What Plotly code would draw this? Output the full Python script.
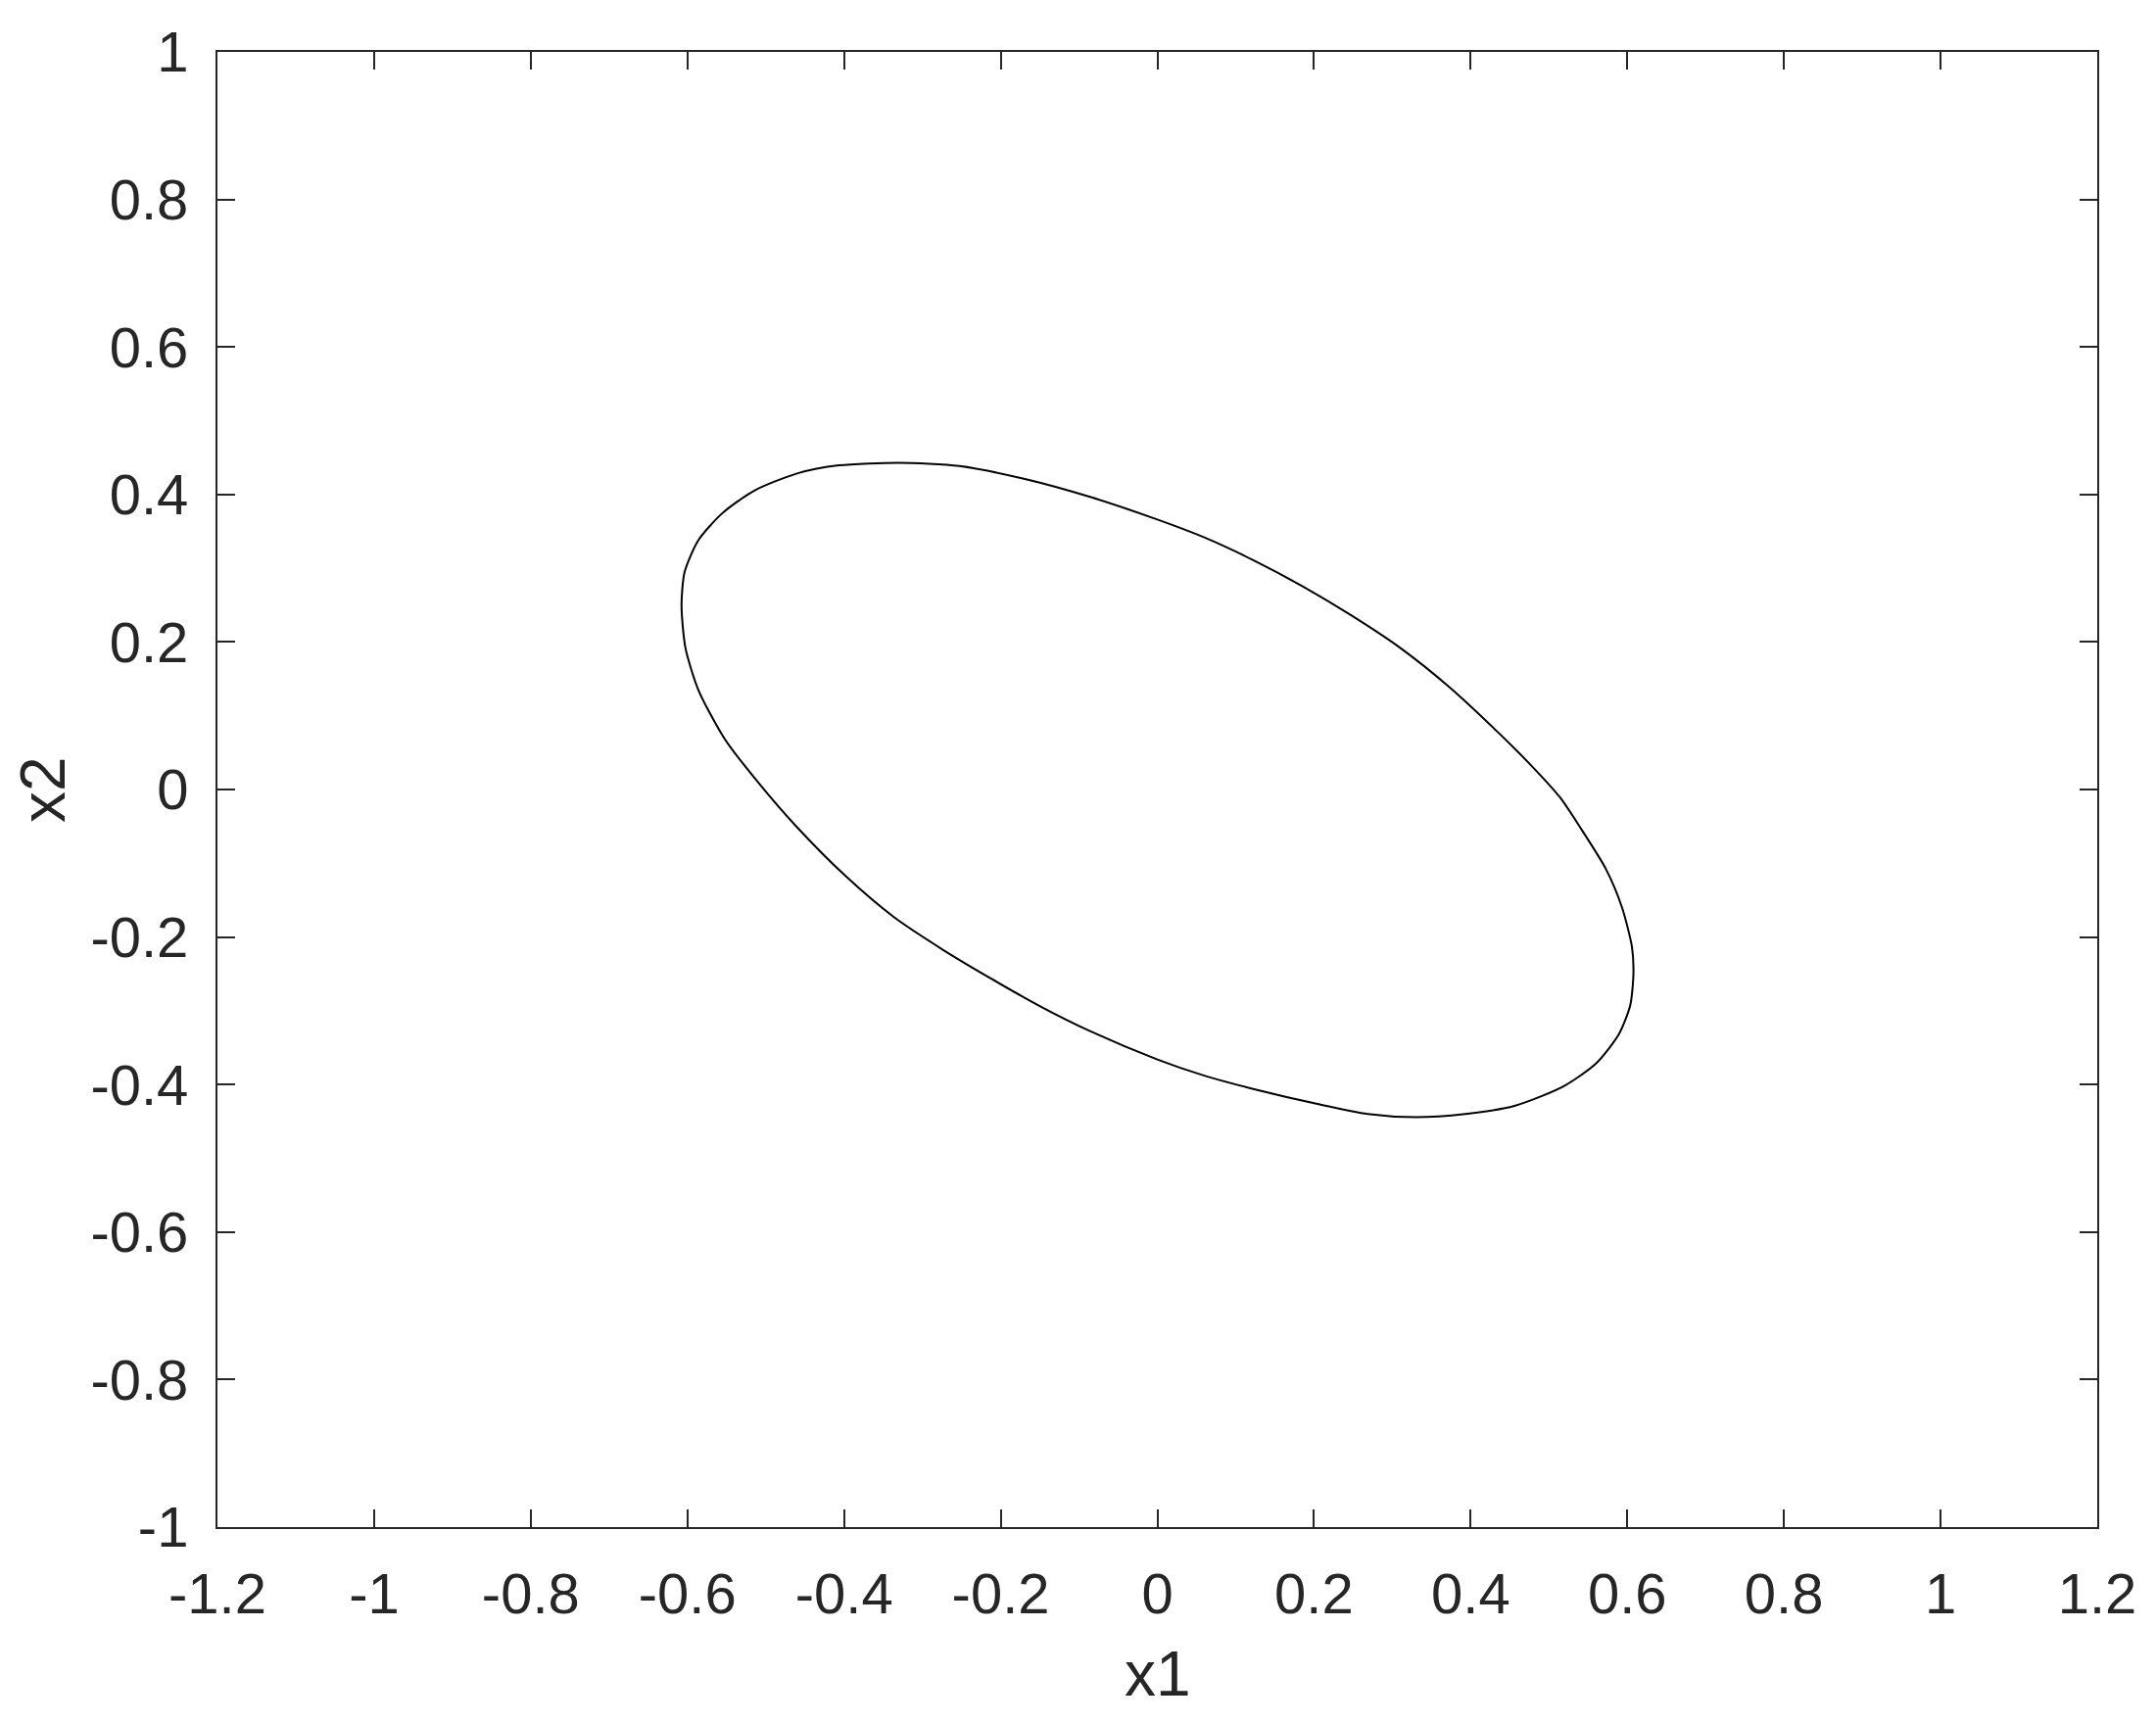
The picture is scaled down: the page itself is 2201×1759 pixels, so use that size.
import plotly.graph_objects as go

# Ellipse points (x1, x2)
x1_vals = [-0.330, -0.2525, -0.1691, -0.0859, 0.000, 0.060, 0.1225, 0.185, 0.2475, 0.310,
           0.3725, 0.435, 0.4766, 0.514, 0.5391, 0.5725, 0.5934, 0.6059, 0.6079, 0.6038,
           0.5891, 0.560, 0.5184, 0.4559, 0.3934, 0.330, 0.2684, 0.2059, 0.1225, 0.060,
           0.000, -0.0859, -0.1484, -0.2109, -0.2734, -0.3359, -0.3984, -0.4609, -0.510,
           -0.5525, -0.5859, -0.6025, -0.6075, -0.6035, -0.5860, -0.5560, -0.5150, -0.4600,
           -0.4066, -0.330]
x2_vals = [0.443, 0.4386, 0.4210, 0.3967, 0.366, 0.3417, 0.3109, 0.2757, 0.2361, 0.192,
           0.1391, 0.0775, 0.0334, -0.0106, -0.0502, -0.1074, -0.1603, -0.2131, -0.2483, -0.2924,
           -0.332, -0.3716, -0.4025, -0.4289, -0.4399, -0.4443, -0.4399, -0.4267, -0.4060, -0.3880,
           -0.366, -0.3276, -0.2946, -0.2572, -0.2175, -0.1734, -0.117, -0.0502, 0.010,
           0.0687, 0.1347, 0.192, 0.250, 0.2950, 0.3380, 0.3740, 0.4050, 0.4285,
           0.4395, 0.443]

x_ticks = [-1.2, -1, -0.8, -0.6, -0.4, -0.2, 0, 0.2, 0.4, 0.6, 0.8, 1, 1.2]
x_tick_labels = ["-1.2", "-1", "-0.8", "-0.6", "-0.4", "-0.2", "0", "0.2", "0.4", "0.6", "0.8", "1", "1.2"]
y_ticks = [-1, -0.8, -0.6, -0.4, -0.2, 0, 0.2, 0.4, 0.6, 0.8, 1]
y_tick_labels = ["-1", "-0.8", "-0.6", "-0.4", "-0.2", "0", "0.2", "0.4", "0.6", "0.8", "1"]

FONT = "Liberation Sans, Arial, sans-serif"
AX = "#262626"

fig = go.Figure()
fig.add_trace(go.Scatter(x=x1_vals, y=x2_vals, mode="lines",
                         line=dict(color="black", width=2, shape="spline", smoothing=0.7),
                         showlegend=False, hoverinfo="skip"))

axis_common = dict(showgrid=False, zeroline=False, showline=True, linecolor=AX, linewidth=2,
                   mirror="ticks", ticks="inside", ticklen=18, tickwidth=2, tickcolor=AX,
                   tickfont=dict(family=FONT, size=58, color=AX))

fig.update_xaxes(range=[-1.2, 1.2], tickvals=x_ticks, ticktext=x_tick_labels,
                 ticklabelstandoff=16, **axis_common)
fig.update_yaxes(range=[-1, 1], tickvals=y_ticks, ticktext=y_tick_labels,
                 ticklabelstandoff=16, **axis_common)

fig.add_annotation(text="x1", xref="paper", yref="paper", x=0.5, y=-0.0997,
                   xanchor="center", yanchor="middle", showarrow=False,
                   font=dict(family=FONT, size=64, color=AX))
fig.add_annotation(text="x2", xref="paper", yref="paper", x=-0.0927, y=0.5,
                   xanchor="center", yanchor="middle", showarrow=False, textangle=-90,
                   font=dict(family=FONT, size=64, color=AX))

fig.update_layout(width=2185, height=1743,
                  margin=dict(l=214, r=51, t=37, b=192),
                  paper_bgcolor="white", plot_bgcolor="white")

fig.write_html("out.html")
